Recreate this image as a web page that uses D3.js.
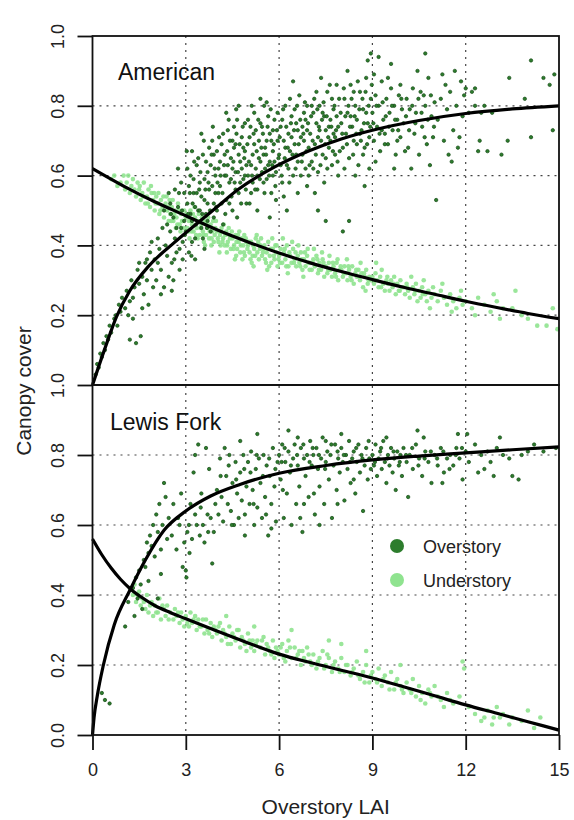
<!DOCTYPE html>
<html>
<head>
<meta charset="utf-8">
<script src="https://cdnjs.cloudflare.com/ajax/libs/d3/7.8.5/d3.min.js"></script>
<style>
  html, body { margin: 0; padding: 0; background: #fff; }
  svg { display: block; font-family: 'Liberation Sans', Arial, Helvetica, sans-serif; }
</style>
</head>
<body>
<svg id="chart" width="574" height="820"></svg>
<script>
// Axis ticks and labels
var xTicks = [0, 3, 6, 9, 12, 15]
var xGrid = [3, 6, 9, 12]
var yGrid = [0.2, 0.4, 0.6, 0.8]
var topYTicks = [0.2, 0.4, 0.6, 0.8, 1.0]
var bottomYTicks = [0.0, 0.2, 0.4, 0.6, 0.8, 1.0]
var panelNames = ['American', 'Lewis Fork']
var seriesNames = ['Overstory', 'Understory']

// American: overstory canopy cover vs overstory LAI
var americanOver = [
  [0.1,0.03],[0.15,0.06],[0.2,0.05],[0.25,0.09],[0.3,0.08],[0.35,0.12],[0.4,0.1],[0.45,0.14],[0.5,0.13],[0.55,0.17],[0.6,0.15],[0.7,0.19],[0.75,0.2],[0.8,0.17],[0.85,0.23],[0.9,0.21],[0.95,0.25],
  [1.05,0.22],[1.1,0.27],[1.15,0.2],[1.2,0.13],[1.25,0.3],[1.3,0.25],[1.35,0.28],[1.4,0.12],[1.45,0.33],[1.5,0.29],[1.55,0.14],[1.6,0.31],[1.65,0.26],[1.7,0.35],[1.75,0.3],[1.8,0.23],[1.85,0.38],[1.9,0.33],[1.95,0.28],[1.3,0.19],[1.6,0.22],[1.9,0.41],[1.75,0.36],[1.2,0.24],[1.5,0.35],
  [2.0,0.36],[2.05,0.3],[2.1,0.42],[2.15,0.39],[2.2,0.33],[2.25,0.45],[2.3,0.28],[2.35,0.4],[2.4,0.37],[2.45,0.31],[2.5,0.44],[2.55,0.35],[2.6,0.48],[2.65,0.42],[2.7,0.38],[2.75,0.51],[2.8,0.33],[2.85,0.45],[2.9,0.41],[2.95,0.55],[2.2,0.26],[2.4,0.46],[2.6,0.3],[2.8,0.39],[2.5,0.52],[2.7,0.45],[2.9,0.36],[2.3,0.5],[2.1,0.35],[2.65,0.56],[2.85,0.58],[2.45,0.55],[2.95,0.47],[2.55,0.27],[2.75,0.62],
  [3.0,0.44],[3.05,0.52],[3.1,0.38],[3.15,0.6],[3.2,0.47],[3.25,0.55],[3.3,0.42],[3.35,0.63],[3.4,0.5],[3.45,0.58],[3.5,0.45],[3.55,0.66],[3.6,0.53],[3.65,0.49],[3.7,0.61],[3.75,0.56],[3.8,0.44],[3.85,0.7],[3.9,0.52],[3.95,0.6],[3.1,0.57],[3.2,0.41],[3.3,0.51],[3.4,0.65],[3.5,0.54],[3.6,0.59],[3.7,0.47],[3.8,0.63],[3.9,0.48],[3.15,0.49],[3.35,0.55],[3.55,0.42],[3.75,0.68],[3.95,0.55],[3.05,0.62],[3.25,0.59],[3.45,0.5],[3.65,0.64],[3.85,0.57],[3.3,0.36],[3.6,0.39],[3.9,0.66],[3.5,0.72],[3.2,0.67],[3.7,0.52],
  [4.0,0.5],[4.05,0.62],[4.1,0.57],[4.15,0.69],[4.2,0.46],[4.25,0.6],[4.3,0.53],[4.35,0.73],[4.4,0.58],[4.45,0.65],[4.5,0.5],[4.55,0.68],[4.6,0.61],[4.65,0.76],[4.7,0.55],[4.75,0.64],[4.8,0.71],[4.85,0.59],[4.9,0.67],[4.95,0.52],[4.1,0.64],[4.2,0.72],[4.3,0.6],[4.4,0.52],[4.5,0.7],[4.6,0.56],[4.7,0.66],[4.8,0.62],[4.9,0.75],[4.05,0.55],[4.25,0.66],[4.45,0.59],[4.65,0.48],[4.85,0.68],[4.15,0.52],[4.35,0.63],[4.55,0.74],[4.75,0.58],[4.95,0.63],[4.5,0.62],[4.3,0.78],[4.7,0.8],[4.0,0.67],[4.9,0.6],[4.6,0.69],
  [5.0,0.6],[5.05,0.71],[5.1,0.55],[5.15,0.66],[5.2,0.78],[5.25,0.62],[5.3,0.5],[5.35,0.7],[5.4,0.64],[5.45,0.74],[5.5,0.58],[5.55,0.68],[5.6,0.81],[5.65,0.63],[5.7,0.72],[5.75,0.55],[5.8,0.67],[5.85,0.76],[5.9,0.61],[5.95,0.7],[5.1,0.63],[5.2,0.69],[5.3,0.6],[5.4,0.75],[5.5,0.66],[5.6,0.59],[5.7,0.64],[5.8,0.73],[5.9,0.53],[5.05,0.52],[5.25,0.73],[5.45,0.61],[5.65,0.77],[5.85,0.64],[5.15,0.58],[5.35,0.65],[5.55,0.62],[5.75,0.7],[5.95,0.78],[5.0,0.76],[5.4,0.82],[5.6,0.7],[5.8,0.6],[5.3,0.56],[5.7,0.48],
  [6.0,0.66],[6.05,0.74],[6.1,0.58],[6.15,0.7],[6.2,0.8],[6.25,0.63],[6.3,0.72],[6.35,0.67],[6.4,0.77],[6.45,0.6],[6.5,0.69],[6.55,0.75],[6.6,0.64],[6.65,0.83],[6.7,0.71],[6.75,0.66],[6.8,0.78],[6.85,0.62],[6.9,0.73],[6.95,0.68],[6.1,0.76],[6.3,0.62],[6.5,0.79],[6.7,0.6],[6.9,0.8],[6.2,0.68],[6.4,0.71],[6.6,0.73],[6.8,0.7],[6.15,0.54],[6.35,0.82],[6.55,0.66],[6.75,0.74],[6.95,0.6],[6.05,0.63],[6.45,0.87],[6.85,0.76],[6.25,0.5],[6.6,0.55],[6.9,0.57],
  [7.0,0.72],[7.05,0.64],[7.1,0.78],[7.15,0.69],[7.2,0.75],[7.25,0.61],[7.3,0.8],[7.35,0.7],[7.4,0.66],[7.45,0.77],[7.5,0.73],[7.55,0.84],[7.6,0.68],[7.65,0.76],[7.7,0.63],[7.75,0.79],[7.8,0.71],[7.85,0.86],[7.9,0.74],[7.95,0.67],[7.1,0.62],[7.3,0.73],[7.5,0.65],[7.7,0.82],[7.9,0.6],[7.2,0.84],[7.4,0.78],[7.6,0.74],[7.8,0.66],[7.05,0.8],[7.25,0.71],[7.45,0.58],[7.65,0.7],[7.85,0.77],[7.15,0.55],[7.35,0.88],[7.55,0.62],[7.75,0.72],[7.25,0.5],[7.5,0.47],
  [8.0,0.75],[8.05,0.68],[8.1,0.82],[8.15,0.72],[8.2,0.78],[8.25,0.65],[8.3,0.86],[8.35,0.74],[8.4,0.7],[8.45,0.8],[8.5,0.76],[8.55,0.63],[8.6,0.84],[8.65,0.73],[8.7,0.79],[8.75,0.68],[8.8,0.88],[8.85,0.75],[8.9,0.71],[8.95,0.82],[8.1,0.62],[8.3,0.77],[8.5,0.69],[8.7,0.66],[8.9,0.62],[8.2,0.9],[8.4,0.84],[8.6,0.72],[8.8,0.78],[8.05,0.44],[8.25,0.47],[8.75,0.57],[8.85,0.93],[8.95,0.95],[8.45,0.6],
  [9.0,0.78],[9.05,0.7],[9.1,0.83],[9.15,0.74],[9.2,0.8],[9.25,0.67],[9.3,0.87],[9.35,0.76],[9.4,0.72],[9.45,0.82],[9.5,0.69],[9.55,0.78],[9.6,0.85],[9.65,0.73],[9.7,0.8],[9.75,0.66],[9.8,0.76],[9.85,0.83],[9.9,0.71],[9.95,0.79],[9.1,0.64],[9.3,0.73],[9.5,0.88],[9.7,0.62],[9.9,0.86],[9.2,0.94],[9.6,0.92],[9.4,0.69],[9.8,0.7],[9.05,0.89],
  [10.0,0.75],[10.1,0.82],[10.15,0.68],[10.2,0.79],[10.3,0.85],[10.35,0.72],[10.4,0.78],[10.5,0.66],[10.55,0.84],[10.6,0.74],[10.7,0.8],[10.75,0.69],[10.8,0.88],[10.9,0.77],[10.95,0.71],[10.25,0.62],[10.45,0.9],[10.65,0.83],[10.85,0.63],[11.0,0.81],[10.7,0.95],[10.05,0.67],
  [11.05,0.53],[11.1,0.76],[11.2,0.82],[11.3,0.7],[11.4,0.79],[11.45,0.66],[11.5,0.84],[11.6,0.73],[11.7,0.8],[11.75,0.68],[11.85,0.87],[11.9,0.77],[11.25,0.89],[11.55,0.64],[11.95,0.83],[11.35,0.86],[11.65,0.9],[11.8,0.71],
  [12.1,0.78],[12.2,0.84],[12.3,0.8],[12.4,0.67],[12.5,0.78],[12.6,0.8],[12.7,0.67],[12.85,0.78],[12.3,0.85],[12.45,0.7],[13.15,0.66],[13.35,0.7],[13.4,0.88],[13.9,0.82],[14.1,0.93],[14.1,0.71],[14.5,0.88],[14.7,0.86],[14.85,0.89],[14.8,0.73],[12.0,0.85],
  [2.52,0.49],[2.63,0.36],[2.78,0.55],[2.88,0.5],[2.97,0.43],[3.08,0.49],[3.13,0.55],[3.22,0.52],[3.27,0.64],[3.33,0.46],[3.43,0.56],[3.47,0.61],[3.53,0.49],[3.63,0.56],[3.68,0.45],[3.73,0.58],[3.78,0.5],[3.83,0.66],[3.93,0.62],[3.98,0.51],[3.03,0.67],[3.18,0.37],[3.58,0.7],[3.87,0.74],
  [4.02,0.58],[4.07,0.71],[4.12,0.6],[4.18,0.55],[4.23,0.63],[4.27,0.49],[4.33,0.67],[4.42,0.7],[4.47,0.54],[4.53,0.64],[4.57,0.58],[4.63,0.72],[4.68,0.61],[4.73,0.69],[4.78,0.52],[4.83,0.74],[4.88,0.65],[4.93,0.56],[4.98,0.69],[5.03,0.64],[5.08,0.74],[5.13,0.6],[5.18,0.72],[5.23,0.56],[5.28,0.67],[5.33,0.76],[5.38,0.59],[5.43,0.68],[5.48,0.72],[5.53,0.55],[5.58,0.66],[5.63,0.74],[5.68,0.6],[5.73,0.79],[5.78,0.63],[5.83,0.69],[5.88,0.57],[5.93,0.73],[5.98,0.65],[4.38,0.76],[4.62,0.79],[5.12,0.8],[5.52,0.8],
  [6.02,0.71],[6.08,0.6],[6.13,0.79],[6.18,0.65],[6.23,0.74],[6.28,0.68],[6.33,0.58],[6.38,0.75],[6.43,0.66],[6.48,0.73],[6.53,0.62],[6.58,0.8],[6.63,0.69],[6.68,0.76],[6.73,0.64],[6.78,0.72],[6.83,0.81],[6.88,0.67],[6.93,0.75],[6.98,0.63],[7.03,0.77],[7.08,0.7],[7.13,0.82],[7.18,0.66],[7.23,0.79],[7.28,0.74],[7.33,0.63],[7.38,0.76],[7.43,0.81],[7.48,0.69],[7.53,0.77],[7.58,0.71],[7.63,0.86],[7.68,0.74],[7.73,0.67],[7.78,0.8],[7.83,0.73],[7.88,0.64],[7.93,0.82],[7.98,0.78],
  [8.03,0.72],[8.08,0.85],[8.13,0.77],[8.18,0.69],[8.23,0.8],[8.28,0.74],[8.33,0.82],[8.38,0.66],[8.43,0.77],[8.48,0.72],[8.53,0.87],[8.58,0.79],[8.63,0.7],[8.68,0.82],[8.73,0.75],[8.78,0.84],[8.83,0.69],[8.88,0.8],[8.93,0.74],[8.98,0.86],
  [9.03,0.75],[9.13,0.8],[9.23,0.72],[9.33,0.81],[9.43,0.77],[9.53,0.74],[9.63,0.8],[9.73,0.76],[9.83,0.73],[9.93,0.82],[10.08,0.77],[10.18,0.73],[10.28,0.8],[10.38,0.75],[10.48,0.82],[10.58,0.78],[10.68,0.71],[10.78,0.76],[10.88,0.83],[10.98,0.74]
]

// American: understory canopy cover
var americanUnder = [
  [0.6,0.59],[0.7,0.6],[0.8,0.57],[0.9,0.58],[1.0,0.6],
  [1.05,0.56],[1.1,0.58],[1.15,0.6],[1.2,0.55],[1.25,0.57],[1.3,0.59],[1.35,0.56],[1.4,0.54],[1.45,0.58],
  [1.5,0.56],[1.55,0.53],[1.6,0.55],[1.65,0.58],[1.7,0.52],[1.75,0.54],[1.8,0.56],[1.85,0.51],[1.9,0.55],[1.95,0.53],
  [2.0,0.5],[2.05,0.54],[2.1,0.52],[2.15,0.49],[2.2,0.53],[2.25,0.51],[2.3,0.48],[2.35,0.52],[2.4,0.5],[2.45,0.47],[2.12,0.55],[2.38,0.54],
  [2.5,0.49],[2.55,0.51],[2.6,0.47],[2.65,0.5],[2.7,0.48],[2.75,0.52],[2.8,0.46],[2.85,0.49],[2.9,0.47],[2.95,0.5],[2.58,0.53],[2.83,0.44],[2.68,0.45],
  [3.0,0.48],[3.05,0.45],[3.1,0.47],[3.15,0.5],[3.2,0.46],[3.25,0.44],[3.3,0.48],[3.35,0.45],[3.4,0.47],[3.45,0.43],[3.12,0.42],[3.28,0.51],[3.42,0.49],[3.18,0.44],[3.38,0.42],
  [3.5,0.46],[3.55,0.44],[3.6,0.47],[3.65,0.43],[3.7,0.45],[3.75,0.42],[3.8,0.46],[3.85,0.44],[3.9,0.41],[3.95,0.45],[3.58,0.41],[3.72,0.48],[3.88,0.47],[3.62,0.4],[3.82,0.4],
  [4.0,0.44],[4.05,0.41],[4.1,0.43],[4.15,0.45],[4.2,0.42],[4.25,0.4],[4.3,0.44],[4.35,0.41],[4.4,0.43],[4.45,0.39],[4.08,0.38],[4.22,0.46],[4.38,0.45],[4.12,0.4],[4.32,0.38],
  [4.5,0.42],[4.55,0.4],[4.6,0.43],[4.65,0.39],[4.7,0.41],[4.75,0.38],[4.8,0.42],[4.85,0.4],[4.9,0.37],[4.95,0.41],[4.58,0.36],[4.72,0.44],[4.88,0.43],[4.62,0.37],[4.82,0.36],
  [5.0,0.4],[5.05,0.38],[5.1,0.41],[5.15,0.37],[5.2,0.39],[5.25,0.42],[5.3,0.38],[5.35,0.36],[5.4,0.4],[5.45,0.37],[5.12,0.35],[5.28,0.43],[5.42,0.42],[5.18,0.34],
  [5.5,0.39],[5.55,0.36],[5.6,0.38],[5.65,0.41],[5.7,0.37],[5.75,0.35],[5.8,0.39],[5.85,0.36],[5.9,0.38],[5.95,0.34],[5.62,0.33],[5.78,0.42],[5.92,0.4],[5.68,0.34],
  [6.0,0.37],[6.05,0.39],[6.1,0.35],[6.15,0.38],[6.2,0.36],[6.25,0.4],[6.3,0.34],[6.35,0.37],[6.4,0.35],[6.45,0.39],[6.12,0.42],[6.28,0.32],[6.42,0.41],
  [6.5,0.36],[6.55,0.34],[6.6,0.37],[6.65,0.35],[6.7,0.38],[6.75,0.33],[6.8,0.36],[6.85,0.34],[6.9,0.37],[6.95,0.35],[6.62,0.4],[6.78,0.31],[6.92,0.39],
  [7.0,0.35],[7.05,0.33],[7.1,0.36],[7.15,0.34],[7.2,0.37],[7.25,0.32],[7.3,0.35],[7.35,0.33],[7.4,0.36],[7.45,0.31],[7.12,0.39],[7.38,0.38],
  [7.5,0.34],[7.55,0.32],[7.6,0.35],[7.65,0.33],[7.7,0.31],[7.75,0.34],[7.8,0.32],[7.85,0.35],[7.9,0.3],[7.95,0.33],[7.62,0.37],[7.88,0.36],
  [8.0,0.33],[8.05,0.31],[8.1,0.34],[8.15,0.32],[8.2,0.3],[8.25,0.33],[8.3,0.31],[8.35,0.34],[8.4,0.29],[8.45,0.32],[8.18,0.36],
  [8.5,0.31],[8.55,0.33],[8.6,0.3],[8.65,0.32],[8.7,0.28],[8.75,0.31],[8.8,0.33],[8.85,0.29],[8.9,0.31],[8.95,0.3],[8.62,0.35],[8.78,0.27],
  [9.0,0.31],[9.05,0.29],[9.1,0.32],[9.15,0.3],[9.2,0.28],[9.25,0.31],[9.3,0.33],[9.35,0.29],[9.4,0.27],[9.45,0.3],[9.12,0.35],
  [9.5,0.29],[9.55,0.27],[9.6,0.3],[9.65,0.28],[9.7,0.31],[9.75,0.26],[9.8,0.29],[9.85,0.27],[9.9,0.3],[9.95,0.28],
  [10.0,0.28],[10.05,0.26],[10.1,0.29],[10.15,0.27],[10.2,0.25],[10.3,0.28],[10.35,0.26],[10.4,0.29],[10.45,0.24],[10.25,0.31],
  [10.5,0.27],[10.55,0.25],[10.6,0.28],[10.7,0.26],[10.75,0.24],[10.8,0.27],[10.9,0.25],[10.95,0.28],[10.65,0.3],[10.85,0.22],
  [11.0,0.26],[11.1,0.24],[11.2,0.27],[11.3,0.25],[11.4,0.23],[11.5,0.26],[11.6,0.24],[11.7,0.22],[11.8,0.25],[11.9,0.23],[11.25,0.29],[11.55,0.21],[11.85,0.27],
  [12.0,0.24],[12.2,0.22],[12.4,0.25],[12.6,0.23],[12.8,0.21],[13.0,0.24],[13.2,0.22],[12.9,0.26],[13.5,0.22],[13.8,0.2],[14.0,0.19],[14.3,0.17],[14.6,0.17],[14.8,0.22],[14.95,0.16],[13.6,0.27],[12.3,0.2],[13.1,0.19],
  [1.52,0.57],[1.63,0.54],[1.78,0.52],[1.88,0.57],[1.98,0.55],[2.03,0.52],[2.18,0.5],[2.28,0.54],[2.43,0.51],[2.48,0.53],[2.53,0.47],[2.63,0.49],[2.73,0.46],[2.78,0.5],[2.88,0.47],[2.93,0.45],
  [3.03,0.49],[3.08,0.44],[3.17,0.47],[3.23,0.49],[3.33,0.43],[3.37,0.47],[3.47,0.45],[3.52,0.48],[3.57,0.43],[3.67,0.46],[3.77,0.44],[3.83,0.42],[3.93,0.43],[3.97,0.47],
  [4.03,0.42],[4.13,0.44],[4.18,0.41],[4.27,0.43],[4.33,0.4],[4.42,0.42],[4.48,0.44],[4.53,0.39],[4.63,0.41],[4.68,0.43],[4.77,0.4],[4.87,0.38],[4.93,0.42],[4.98,0.39],
  [5.03,0.41],[5.08,0.36],[5.17,0.4],[5.23,0.37],[5.33,0.41],[5.38,0.39],[5.48,0.38],[5.53,0.4],[5.58,0.35],[5.73,0.39],[5.83,0.37],[5.88,0.4],[5.98,0.36],
  [6.03,0.35],[6.18,0.39],[6.23,0.34],[6.33,0.38],[6.48,0.35],[6.53,0.38],[6.68,0.34],[6.73,0.36],[6.83,0.38],[6.98,0.33],[7.08,0.35],[7.23,0.36],[7.28,0.33],[7.43,0.35],[7.58,0.33],[7.73,0.35],[7.83,0.31],[7.98,0.34],
  [8.08,0.32],[8.23,0.34],[8.33,0.3],[8.48,0.33],[8.58,0.31],[8.73,0.32],[8.88,0.3],[9.08,0.3],[9.28,0.28],[9.48,0.31],[9.68,0.29],[9.88,0.27],[10.12,0.28],[10.38,0.27],[10.62,0.26]
]

// Lewis Fork: overstory canopy cover
var lewisOver = [
  [0.3,0.12],[0.4,0.1],[0.55,0.09],[1.05,0.31],[1.35,0.34],[1.15,0.38],
  [1.3,0.42],[1.4,0.45],[1.45,0.39],[1.5,0.47],[1.55,0.43],[1.6,0.36],[1.65,0.5],[1.7,0.48],[1.75,0.55],[1.8,0.52],[1.85,0.57],[1.9,0.54],[1.95,0.6],[2.0,0.51],[2.05,0.63],[2.1,0.58],[2.15,0.66],[2.2,0.53],[2.25,0.6],[2.3,0.72],[2.35,0.68],[2.4,0.56],[2.45,0.62],[1.8,0.44],[2.1,0.39],[2.2,0.46],
  [2.55,0.57],[2.6,0.66],[2.7,0.53],[2.75,0.62],[2.8,0.6],[2.85,0.69],[2.9,0.48],[2.95,0.55],[3.0,0.47],[3.02,0.45],[3.05,0.58],[3.1,0.6],[3.15,0.66],[3.2,0.56],[3.25,0.75],[3.3,0.63],[3.35,0.6],[3.4,0.83],[3.45,0.57],[3.5,0.69],[3.55,0.6],[3.6,0.55],[3.7,0.63],[3.75,0.76],[3.8,0.62],[3.85,0.49],[3.9,0.58],[3.95,0.66],[3.3,0.8],[3.65,0.82],
  [4.0,0.7],[4.05,0.63],[4.1,0.79],[4.15,0.68],[4.2,0.61],[4.3,0.74],[4.35,0.66],[4.4,0.8],[4.45,0.64],[4.5,0.72],[4.55,0.6],[4.6,0.78],[4.65,0.69],[4.7,0.62],[4.75,0.75],[4.8,0.67],[4.85,0.8],[4.9,0.63],[4.95,0.71],[5.0,0.78],[5.05,0.66],[5.1,0.81],[5.15,0.7],[5.2,0.6],[5.25,0.76],[5.3,0.65],[5.35,0.79],[5.4,0.72],[5.45,0.62],[5.5,0.8],[5.55,0.68],[5.6,0.77],[5.65,0.57],[5.7,0.74],[5.75,0.66],[5.8,0.82],[5.85,0.71],[5.9,0.61],[5.95,0.78],[4.25,0.82],[4.75,0.84],[5.3,0.86],[5.75,0.59],[4.9,0.57],
  [6.0,0.8],[6.05,0.73],[6.1,0.83],[6.15,0.62],[6.2,0.78],[6.25,0.69],[6.3,0.81],[6.35,0.75],[6.4,0.6],[6.45,0.79],[6.5,0.83],[6.55,0.66],[6.6,0.77],[6.65,0.71],[6.7,0.82],[6.75,0.58],[6.8,0.79],[6.85,0.74],[6.9,0.8],[6.95,0.68],[7.0,0.84],[7.05,0.77],[7.1,0.8],[7.15,0.63],[7.2,0.82],[7.25,0.76],[7.3,0.71],[7.35,0.79],[7.4,0.85],[7.45,0.66],[7.5,0.78],[7.55,0.81],[7.6,0.73],[7.65,0.8],[7.7,0.62],[7.75,0.77],[7.8,0.83],[7.85,0.7],[7.9,0.79],[7.95,0.75],
  [8.0,0.82],[8.05,0.78],[8.1,0.67],[8.15,0.8],[8.2,0.76],[8.25,0.84],[8.3,0.72],[8.35,0.79],[8.4,0.81],[8.45,0.69],[8.5,0.78],[8.55,0.83],[8.6,0.75],[8.65,0.8],[8.7,0.64],[8.75,0.77],[8.8,0.82],[8.85,0.73],[8.9,0.79],[8.95,0.76],[6.3,0.87],[7.5,0.84],[8.0,0.86],[6.8,0.66],[7.3,0.6],[8.4,0.73],[6.6,0.85],
  [9.0,0.8],[9.05,0.77],[9.1,0.83],[9.15,0.74],[9.2,0.79],[9.25,0.81],[9.3,0.76],[9.35,0.84],[9.4,0.78],[9.45,0.72],[9.5,0.8],[9.55,0.77],[9.6,0.82],[9.65,0.75],[9.7,0.79],[9.75,0.7],[9.8,0.81],[9.85,0.77],[9.9,0.8],[9.95,0.74],
  [10.0,0.82],[10.1,0.78],[10.2,0.8],[10.3,0.76],[10.4,0.83],[10.5,0.79],[10.6,0.74],[10.7,0.81],[10.8,0.78],[10.9,0.72],[11.0,0.8],[11.1,0.77],[11.2,0.82],[11.3,0.75],[11.4,0.79],[11.5,0.8],[11.6,0.77],[11.7,0.82],[11.8,0.79],[11.9,0.73],[10.15,0.68],[10.45,0.87],[11.25,0.72],[11.75,0.86],[9.45,0.85],[10.65,0.85],
  [12.0,0.81],[12.1,0.78],[12.3,0.83],[12.5,0.8],[12.6,0.76],[12.7,0.81],[12.8,0.78],[12.9,0.74],[13.0,0.82],[13.2,0.8],[13.4,0.79],[13.5,0.74],[13.8,0.8],[14.0,0.81],[14.2,0.83],[14.5,0.81],[14.9,0.82],[12.05,0.86],[12.4,0.75],[13.1,0.85],[13.7,0.73],
  [4.12,0.74],[4.38,0.77],[4.62,0.73],[4.88,0.76],[5.08,0.75],[5.28,0.8],[5.48,0.74],[5.68,0.79],[5.88,0.76],[6.08,0.78],[6.18,0.82],[6.38,0.77],[6.58,0.8],[6.78,0.83],[6.98,0.78],[7.08,0.82],[7.28,0.8],[7.48,0.76],[7.68,0.83],[7.88,0.81],
  [8.08,0.8],[8.28,0.78],[8.48,0.82],[8.68,0.79],[8.88,0.84],[9.08,0.78],[9.28,0.82],[9.48,0.79],[9.68,0.81],[9.88,0.78],[10.08,0.8],[10.28,0.82],[10.48,0.77],[10.68,0.79],[10.88,0.81],[11.08,0.79],[11.28,0.81],[11.48,0.76],[11.68,0.8],[11.88,0.82],
  [3.12,0.52],[3.48,0.65],[3.72,0.58],[4.48,0.6],[5.18,0.66],[5.58,0.63],[6.12,0.7],[6.68,0.62],[7.12,0.69],[7.88,0.66]
]

// Lewis Fork: understory canopy cover
var lewisUnder = [
  [1.2,0.42],[1.3,0.4],[1.35,0.43],[1.4,0.38],[1.5,0.41],[1.55,0.37],[1.6,0.39],[1.7,0.36],[1.75,0.4],[1.8,0.35],[1.9,0.38],[1.95,0.34],[2.0,0.37],[2.1,0.35],[2.15,0.39],[2.2,0.33],[2.3,0.36],[2.35,0.34],[2.4,0.37],[2.5,0.35],[2.6,0.33],[2.65,0.36],[2.7,0.34],[2.8,0.32],[2.85,0.35],[2.9,0.33],
  [3.0,0.34],[3.1,0.31],[3.15,0.35],[3.2,0.32],[3.3,0.34],[3.35,0.3],[3.4,0.33],[3.5,0.31],[3.6,0.29],[3.65,0.33],[3.7,0.3],[3.8,0.32],[3.85,0.28],[3.9,0.31],
  [4.0,0.29],[4.1,0.32],[4.15,0.27],[4.2,0.3],[4.3,0.28],[4.4,0.31],[4.45,0.26],[4.5,0.29],[4.6,0.27],[4.7,0.3],[4.75,0.25],[4.8,0.28],[4.9,0.26],
  [5.0,0.29],[5.1,0.25],[5.15,0.27],[5.2,0.24],[5.3,0.27],[5.4,0.25],[5.5,0.28],[5.55,0.23],[5.6,0.26],[5.7,0.24],[5.8,0.27],[5.85,0.22],[5.9,0.25],
  [6.0,0.23],[6.1,0.26],[6.2,0.21],[6.25,0.24],[6.3,0.27],[6.4,0.22],[6.5,0.25],[6.6,0.23],[6.7,0.2],[6.75,0.24],[6.8,0.22],[6.9,0.25],
  [7.0,0.21],[7.1,0.23],[7.2,0.19],[7.3,0.22],[7.4,0.24],[7.5,0.2],[7.6,0.22],[7.7,0.18],[7.8,0.21],[7.9,0.19],
  [8.0,0.22],[8.1,0.18],[8.2,0.2],[8.3,0.17],[8.4,0.19],[8.5,0.21],[8.6,0.16],[8.7,0.18],[8.8,0.2],[8.9,0.15],
  [9.0,0.18],[9.1,0.16],[9.2,0.19],[9.3,0.14],[9.4,0.17],[9.5,0.15],[9.6,0.18],[9.7,0.13],[9.8,0.16],[9.9,0.14],
  [10.0,0.12],[10.1,0.15],[10.2,0.13],[10.3,0.16],[10.4,0.11],[10.5,0.14],[10.6,0.12],[10.7,0.09],[10.8,0.13],[10.9,0.11],
  [11.0,0.14],[11.2,0.1],[11.4,0.12],[11.6,0.09],[11.8,0.11],[11.9,0.21],[11.95,0.19],
  [12.1,0.08],[12.3,0.06],[12.5,0.04],[12.7,0.07],[12.9,0.05],[13.0,0.08],[13.2,0.06],[13.4,0.03],[13.5,0.05],[13.8,0.04],[14.0,0.07],[14.2,0.02],[14.4,0.05],
  [5.2,0.31],[6.4,0.3],[4.3,0.34],[7.6,0.27],[8.8,0.24],[9.9,0.2],[8.0,0.26],
  [1.45,0.4],[1.65,0.38],[1.85,0.37],[2.05,0.35],[2.25,0.37],[2.45,0.33],[2.75,0.35],[2.95,0.31],[3.05,0.32],[3.25,0.33],[3.45,0.31],[3.55,0.33],[3.75,0.29],[3.95,0.3],
  [4.05,0.31],[4.25,0.29],[4.35,0.26],[4.55,0.28],[4.65,0.3],[4.85,0.27],[4.95,0.24],[5.05,0.27],[5.25,0.26],[5.45,0.27],[5.65,0.25],[5.75,0.23],[5.95,0.24],
  [6.05,0.25],[6.15,0.22],[6.35,0.25],[6.55,0.22],[6.65,0.24],[6.85,0.21],[6.95,0.23],[7.05,0.2],[7.25,0.21],[7.45,0.19],[7.55,0.23],[7.75,0.2],[7.95,0.18],
  [8.15,0.2],[8.35,0.18],[8.55,0.17],[8.75,0.15],[8.95,0.17],[9.15,0.15],[9.35,0.16],[9.55,0.13],[9.75,0.15],[9.95,0.13],[10.25,0.12],[10.55,0.1],[10.85,0.12],[11.1,0.11],[11.3,0.08],[11.5,0.1],[12.85,0.03],[13.1,0.05],[12.6,0.05]
]

// Fitted curves
var americanOverFit = [[0,0],[0.4,0.105],[0.77,0.195],[1.2,0.27],[1.8,0.34],[2.59,0.405],[3.39,0.465],[4.0,0.51],[4.68,0.56],[5.86,0.625],[6.93,0.67],[8,0.705],[9,0.73],[10.5,0.758],[12,0.778],[13.5,0.791],[15,0.80]]
var americanUnderFit = [[0,0.62],[1,0.57],[2,0.525],[3,0.485],[4,0.445],[5,0.41],[6,0.378],[7,0.35],[8,0.325],[9,0.302],[10,0.28],[11,0.26],[12,0.24],[13,0.222],[14,0.205],[15,0.19]]
var lewisOverFit = [[0,0],[0.05,0.05],[0.15,0.11],[0.35,0.2],[0.7,0.315],[1.21,0.415],[1.7,0.5],[2.3,0.585],[3,0.64],[3.8,0.683],[4.74,0.716],[6,0.748],[7.5,0.77],[9,0.786],[10.5,0.797],[12,0.806],[13.5,0.815],[15,0.823]]
var lewisUnderFit = [[0,0.56],[0.3,0.515],[0.6,0.477],[0.9,0.445],[1.21,0.418],[1.6,0.392],[2,0.37],[2.5,0.35],[3,0.332],[4,0.297],[5,0.263],[6,0.231],[7,0.207],[8,0.185],[9,0.163],[10,0.138],[11,0.112],[12,0.086],[13,0.062],[14,0.038],[15,0.014]]

var overColor = '#2d7d2d'
var overStroke = '#164a16'
var underColor = '#8fe38f'

var svg = d3.select('#chart')
var plotLeft = 92.5
var plotRight = 559

var x = d3.scaleLinear().domain([0, 15]).range([plotLeft, plotRight])

var panels = [
  { name: panelNames[0], top: 36, bottom: 385, yTicks: topYTicks, over: americanOver, under: americanUnder, overFit: americanOverFit, underFit: americanUnderFit },
  { name: panelNames[1], top: 385, bottom: 735, yTicks: bottomYTicks, over: lewisOver, under: lewisUnder, overFit: lewisOverFit, underFit: lewisUnderFit }
]

// vertical grid lines run through both panels
svg.append('g').attr('class', 'xgrid')
  .selectAll('line').data(xGrid).enter().append('line')
  .attr('x1', function (d) { return x(d) })
  .attr('x2', function (d) { return x(d) })
  .attr('y1', 36).attr('y2', 735)
  .attr('stroke', '#444').attr('stroke-width', 1.2).attr('stroke-dasharray', '2,5')

panels.forEach(function (p, i) {
  var y = d3.scaleLinear().domain([0, 1]).range([p.bottom, p.top])
  var g = svg.append('g').attr('class', 'panel panel-' + i)

  g.append('g').attr('class', 'ygrid')
    .selectAll('line').data(yGrid).enter().append('line')
    .attr('x1', plotLeft).attr('x2', plotRight)
    .attr('y1', function (d) { return y(d) })
    .attr('y2', function (d) { return y(d) })
    .attr('stroke', '#444').attr('stroke-width', 1.2).attr('stroke-dasharray', '2,5')

  // understory first, overstory drawn on top
  g.append('g').selectAll('circle').data(p.under).enter().append('circle')
    .attr('cx', function (d) { return x(d[0]) })
    .attr('cy', function (d) { return y(d[1]) })
    .attr('r', 2.3)
    .attr('fill', underColor)
    .attr('fill-opacity', 0.9)

  g.append('g').selectAll('circle').data(p.over).enter().append('circle')
    .attr('cx', function (d) { return x(d[0]) })
    .attr('cy', function (d) { return y(d[1]) })
    .attr('r', 1.7)
    .attr('fill', overColor)
    .attr('stroke', overStroke)
    .attr('stroke-width', 0.7)

  var line = d3.line()
    .x(function (d) { return x(d[0]) })
    .y(function (d) { return y(d[1]) })
    .curve(d3.curveMonotoneX)

  g.selectAll('path.fit').data([p.overFit, p.underFit]).enter().append('path')
    .attr('class', 'fit')
    .attr('d', line)
    .attr('fill', 'none')
    .attr('stroke', '#000')
    .attr('stroke-width', 3.2)

  // left axis with rotated labels
  var yAxis = d3.axisLeft(y).tickValues(p.yTicks).tickSize(15).tickFormat(d3.format('.1f'))
  var ag = g.append('g').attr('transform', 'translate(' + plotLeft + ',0)').call(yAxis)
  ag.select('.domain').remove()
  ag.selectAll('.tick line').attr('stroke', '#111').attr('stroke-width', 1.8)
  ag.selectAll('.tick text')
    .attr('transform', 'rotate(-90)')
    .attr('x', 0).attr('y', -29).attr('dy', 0)
    .attr('text-anchor', 'middle')
    .attr('font-size', 18).attr('fill', '#222')
    .attr('font-family', null)

  g.append('text')
    .attr('x', i === 0 ? 118 : 110)
    .attr('y', i === 0 ? 80 : 430)
    .attr('font-size', 23).attr('fill', '#111')
    .text(p.name)

  g.append('rect')
    .attr('x', plotLeft).attr('y', p.top)
    .attr('width', plotRight - plotLeft).attr('height', p.bottom - p.top)
    .attr('fill', 'none').attr('stroke', '#111').attr('stroke-width', 1.8)
})

// shared x axis
var xAxis = d3.axisBottom(x).tickValues(xTicks).tickSize(15).tickPadding(13)
var xg = svg.append('g').attr('transform', 'translate(0,735)').call(xAxis)
xg.select('.domain').remove()
xg.selectAll('.tick line').attr('stroke', '#111').attr('stroke-width', 1.8)
xg.selectAll('.tick text').attr('font-size', 18).attr('fill', '#222').attr('font-family', null)

svg.append('text')
  .attr('x', (plotLeft + plotRight) / 2).attr('y', 814)
  .attr('text-anchor', 'middle').attr('font-size', 21).attr('fill', '#222')
  .text('Overstory LAI')

svg.append('text')
  .attr('transform', 'translate(31,391) rotate(-90)')
  .attr('text-anchor', 'middle').attr('font-size', 21).attr('fill', '#222')
  .text('Canopy cover')

// legend
var legend = svg.append('g').attr('class', 'legend')
var legendColors = [overColor, underColor]
legend.selectAll('circle').data(seriesNames).enter().append('circle')
  .attr('cx', 397)
  .attr('cy', function (d, i) { return 546 + i * 34 })
  .attr('r', 7)
  .attr('fill', function (d, i) { return legendColors[i] })
legend.selectAll('text').data(seriesNames).enter().append('text')
  .attr('x', 423)
  .attr('y', function (d, i) { return 553 + i * 34 })
  .attr('font-size', 18).attr('fill', '#222')
  .text(function (d) { return d })
</script>
</body>
</html>
